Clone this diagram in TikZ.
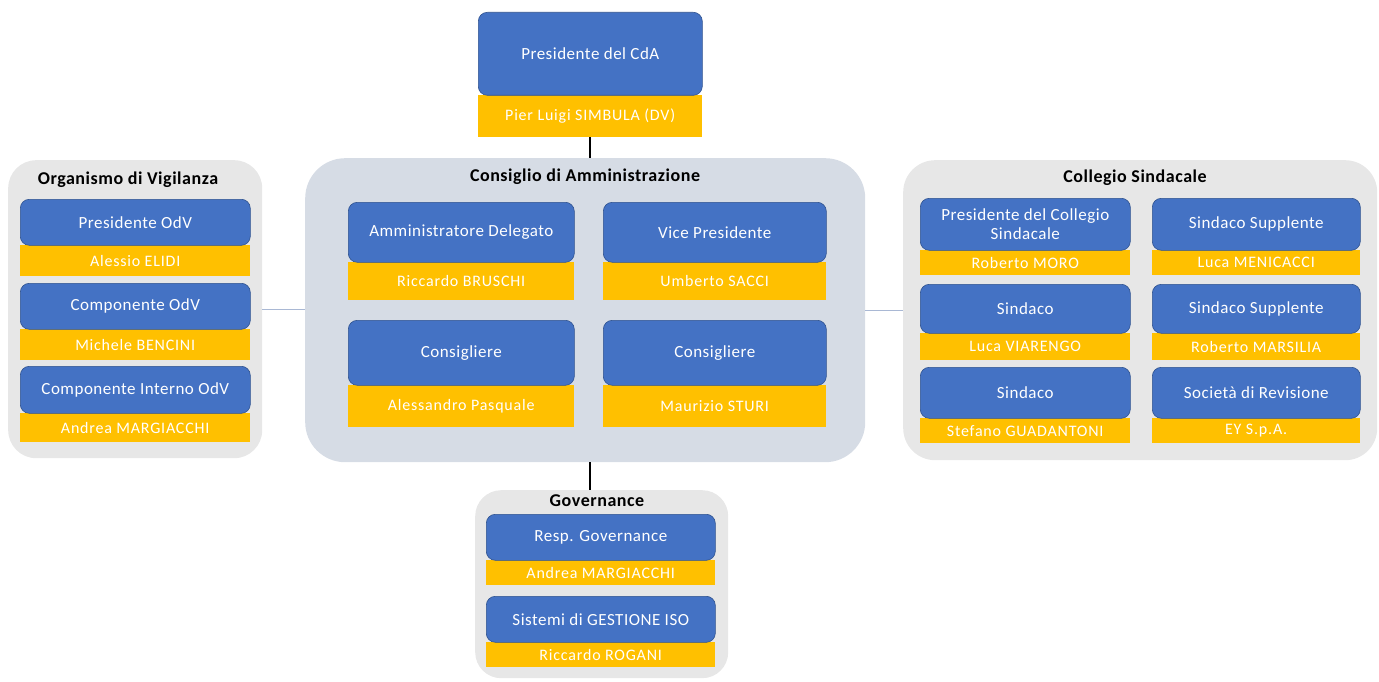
\documentclass[tikz,border=0pt]{standalone}
\usepackage{fontspec}
\setmainfont{Carlito}
\definecolor{roleblue}{HTML}{4472C4}
\definecolor{roleedge}{HTML}{2F528F}
\definecolor{persyellow}{HTML}{FFC000}
\definecolor{grpgrey}{HTML}{E7E7E7}
\definecolor{grpblue}{HTML}{D6DCE5}
\definecolor{sidelink}{HTML}{A9B8D4}
\tikzset{
  grp/.style={anchor=north west, inner sep=0pt, draw=none},
  grptitle/.style={font=\addfontfeature{LetterSpace=3}\bfseries\fontsize{18}{20}\selectfont, text=black},
  role/.style={anchor=north west, inner sep=0pt, fill=roleblue, draw=roleedge, line width=0.6pt, rounded corners=9pt, text=white, align=center, font=\addfontfeature{LetterSpace=3}\fontsize{17}{19}\selectfont},
  person/.style={anchor=north west, inner sep=0pt, fill=persyellow, draw=none, text=white, font=\addfontfeature{LetterSpace=5}\fontsize{16}{18}\selectfont},
  mainlink/.style={draw=black, line width=1.6pt},
  sidelinkst/.style={draw=sidelink, line width=1.2pt}
}
\newcommand{\rp}[8]{%
  \node[person, minimum width=#4, minimum height=#6] (#1n) at (#2,{#3+#5}) {#8};
  \node[role, minimum width=#4, minimum height=#5] (#1) at (#2,#3) {#7};
}
\begin{document}
\begin{tikzpicture}[x=1pt,y=-1pt]
\useasboundingbox (0,0) rectangle (1379,682);
% groups
\node[grp, fill=grpgrey, rounded corners=28pt, minimum width=254, minimum height=298] (odv) at (8,160) {};
\node[grp, fill=grpblue, rounded corners=40pt, minimum width=560, minimum height=304] (cda) at (305,158) {};
\node[grp, fill=grpgrey, rounded corners=32pt, minimum width=474, minimum height=300] (cs) at (903,160) {};
\node[grp, fill=grpgrey, rounded corners=26pt, minimum width=253, minimum height=188] (gov) at (475,490) {};
% titles
\node[grptitle] (odvt) at (128,180) {Organismo di Vigilanza};
\node[grptitle] (cdat) at (585,177) {Consiglio di Amministrazione};
\node[grptitle] (cst) at (1135,178) {Collegio Sindacale};
\node[grptitle] (govt) at (597,501) {Governance};
% top
\rp{pres}{478}{12}{224}{83}{42}{Presidente del CdA}{Pier Luigi SIMBULA (DV)}
% CdA
\rp{ad}{348}{202}{226}{60}{38}{Amministratore Delegato}{Riccardo BRUSCHI}
\rp{vp}{603}{202}{223}{60}{38}{Vice Presidente}{Umberto SACCI}
\rp{ca}{348}{320}{226}{65}{42}{Consigliere}{Alessandro Pasquale}
\rp{cb}{603}{320}{223}{65}{42}{Consigliere}{Maurizio STURI}
% OdV
\rp{po}{20}{199}{230}{46}{31}{Presidente OdV}{Alessio ELIDI}
\rp{co}{20}{283}{230}{46}{31}{Componente OdV}{Michele BENCINI}
\rp{ci}{20}{366}{230}{47}{29}{Componente Interno OdV}{Andrea MARGIACCHI}
% Collegio Sindacale
\rp{pc}{920}{198}{210}{52}{25}{Presidente del Collegio\\Sindacale}{Roberto MORO}
\rp{sa}{1152}{198}{208}{52}{25}{Sindaco Supplente}{Luca MENICACCI}
\rp{sb}{920}{284}{210}{49}{27}{Sindaco}{Luca VIARENGO}
\rp{sc}{1152}{284}{208}{49}{27}{Sindaco Supplente}{Roberto MARSILIA}
\rp{sd}{920}{367}{210}{51}{25}{Sindaco}{Stefano GUADANTONI}
\rp{se}{1152}{367}{208}{51}{25}{Società di Revisione}{EY S.p.A.}
% Governance
\rp{rg}{486}{514}{229}{46}{25}{Resp. Governance}{Andrea MARGIACCHI}
\rp{sg}{486}{596}{229}{46}{25}{Sistemi di GESTIONE ISO}{Riccardo ROGANI}
% connectors
\draw[mainlink] (presn.south) -- (presn.south |- cda.north);
\draw[mainlink] (presn.south |- cda.south) -- (presn.south |- gov.north);
\draw[sidelinkst] (odv.east) -- (odv.east -| cda.west);
\draw[sidelinkst] (cda.east) -- (cda.east -| cs.west);
\end{tikzpicture}
\end{document}
